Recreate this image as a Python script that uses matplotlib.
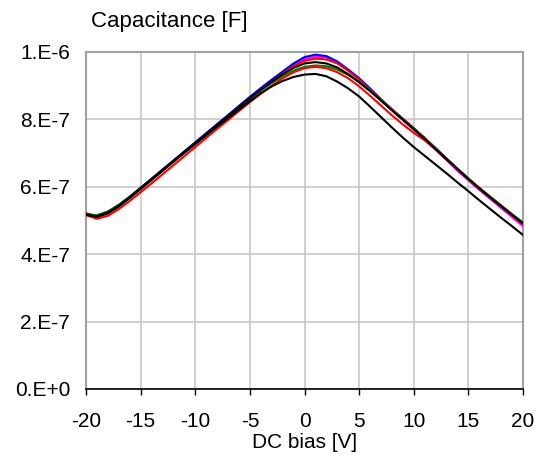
import matplotlib
matplotlib.use("Agg")
import matplotlib.pyplot as plt
import numpy as np

plt.rcParams['font.family'] = ['Liberation Sans', 'DejaVu Sans']

# DC bias [V]
bias = list(range(-20, 21))

# Capacitance values in units of 1e-7 F (1 V steps, -20..20)
cap_blue = [5.20, 5.14, 5.25, 5.45, 5.70, 5.97, 6.24, 6.51, 6.78, 7.05,
            7.32, 7.59, 7.86, 8.13, 8.40, 8.67, 8.93, 9.18, 9.42, 9.66,
            9.85, 9.92, 9.88, 9.72, 9.48, 9.22, 8.92, 8.60, 8.30, 8.02,
            7.74, 7.44, 7.14, 6.83, 6.53, 6.24, 5.96, 5.70, 5.44, 5.18, 4.93]
cap_magenta = [5.18, 5.12, 5.23, 5.43, 5.68, 5.95, 6.22, 6.49, 6.76, 7.03,
               7.30, 7.57, 7.84, 8.11, 8.38, 8.65, 8.91, 9.16, 9.40, 9.62,
               9.79, 9.86, 9.84, 9.70, 9.46, 9.20, 8.90, 8.58, 8.28, 7.99,
               7.70, 7.40, 7.10, 6.79, 6.48, 6.19, 5.91, 5.64, 5.37, 5.10, 4.83]
cap_red = [5.22, 5.10, 5.20, 5.42, 5.68, 5.93, 6.20, 6.47, 6.74, 7.01,
           7.28, 7.55, 7.82, 8.09, 8.36, 8.62, 8.88, 9.12, 9.36, 9.58,
           9.74, 9.80, 9.78, 9.66, 9.44, 9.18, 8.88, 8.58, 8.30, 8.02,
           7.74, 7.45, 7.15, 6.84, 6.54, 6.24, 5.96, 5.69, 5.43, 5.17, 4.90]
cap_green = [5.18, 5.16, 5.27, 5.47, 5.71, 5.97, 6.23, 6.50, 6.76, 7.02,
             7.29, 7.56, 7.83, 8.10, 8.36, 8.62, 8.86, 9.08, 9.28, 9.45,
             9.56, 9.60, 9.58, 9.48, 9.32, 9.12, 8.86, 8.57, 8.28, 8.00,
             7.73, 7.44, 7.14, 6.84, 6.54, 6.25, 5.97, 5.71, 5.45, 5.19, 4.94]
cap_red_low = [5.16, 5.05, 5.14, 5.34, 5.58, 5.84, 6.10, 6.37, 6.64, 6.91,
               7.18, 7.45, 7.72, 7.98, 8.25, 8.51, 8.76, 9.00, 9.22, 9.40,
               9.52, 9.56, 9.52, 9.40, 9.22, 8.98, 8.70, 8.41, 8.12, 7.85,
               7.60, 7.38, 7.11, 6.82, 6.52, 6.23, 5.95, 5.68, 5.42, 5.16, 4.89]
cap_black = [5.18, 5.12, 5.24, 5.44, 5.69, 5.96, 6.23, 6.50, 6.77, 7.04,
             7.30, 7.57, 7.84, 8.10, 8.37, 8.63, 8.88, 9.12, 9.34, 9.53,
             9.66, 9.70, 9.66, 9.54, 9.34, 9.10, 8.84, 8.56, 8.27, 7.99,
             7.71, 7.42, 7.12, 6.82, 6.52, 6.23, 5.95, 5.68, 5.42, 5.16, 4.91]
cap_black_low = [5.17, 5.11, 5.22, 5.42, 5.67, 5.94, 6.21, 6.48, 6.75, 7.01,
                 7.27, 7.53, 7.79, 8.04, 8.29, 8.54, 8.78, 8.98, 9.14, 9.26,
                 9.33, 9.35, 9.28, 9.12, 8.92, 8.68, 8.38, 8.07, 7.76, 7.46,
                 7.18, 6.92, 6.66, 6.40, 6.13, 5.87, 5.60, 5.34, 5.08, 4.83, 4.57]

series = [
    (cap_magenta, '#ff00ff'),
    (cap_blue, '#0000ff'),
    (cap_red, '#ff0000'),
    (cap_green, '#008000'),
    (cap_red_low, '#ff0000'),
    (cap_black, '#000000'),
    (cap_black_low, '#000000'),
]

x_ticks = [-20, -15, -10, -5, 0, 5, 10, 15, 20]
y_ticks = [0, 2e-7, 4e-7, 6e-7, 8e-7, 1e-6]
y_tick_labels = ['0.E+0', '2.E-7', '4.E-7', '6.E-7', '8.E-7', '1.E-6']

fig = plt.figure(figsize=(5.35, 4.55), dpi=100)
ax = fig.add_axes([86/535, 1 - 389/455, (523 - 86)/535, (389 - 52)/455])

for vals, col in series:
    ax.plot(bias, np.array(vals) * 1e-7, color=col, lw=1.5, zorder=3)

ax.set_xlim(-20, 20)
ax.set_ylim(0, 1e-6)
ax.set_xticks(x_ticks)
ax.set_xticklabels([str(t) for t in x_ticks])
ax.set_yticks(y_ticks)
ax.set_yticklabels(y_tick_labels)
ax.grid(True, color='#c8c8c8', lw=1.2, zorder=0)
ax.set_axisbelow(True)

for s in ['left', 'top', 'right']:
    ax.spines[s].set_color('#a0a0a0')
    ax.spines[s].set_linewidth(1.5)
ax.spines['bottom'].set_color('#000000')
ax.spines['bottom'].set_linewidth(1.2)

ax.tick_params(axis='x', direction='out', length=4.3, width=1.0, color='#000000',
               pad=12.5, labelsize=15)
ax.tick_params(axis='y', length=0, pad=11.5, labelsize=15)

ax.set_xlabel('DC bias [V]', fontsize=15)
ax.xaxis.set_label_coords(0.5, -0.132)

fig.text(91/535, 1 - 27/455, 'Capacitance [F]', fontsize=16, ha='left', va='baseline')

fig.savefig('out.png', dpi=100)
